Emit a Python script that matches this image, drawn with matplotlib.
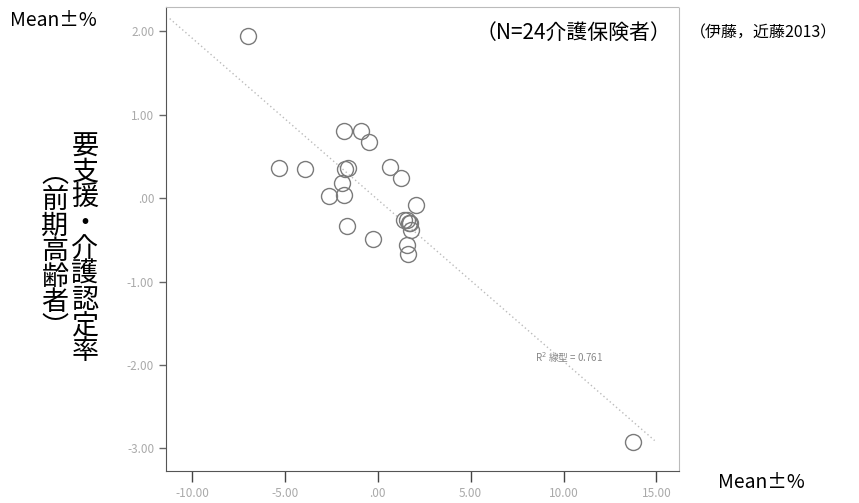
import numpy as np
import matplotlib
matplotlib.use("Agg")
import matplotlib.pyplot as plt

plt.rcParams['font.family'] = ['Noto Sans CJK JP', 'DejaVu Sans']

# 24 insurers: x = deviation (Mean±%), y = certification rate deviation (Mean±%)
x_vals = [-1.81, -0.91, -0.48, -5.32, -3.94, -1.74, -1.60, -1.90, -2.62, -1.81,
          0.65, 1.27, 2.06, 1.40, 1.58, 1.68, 1.72, 1.81, -1.68, -0.25,
          1.58, 1.60, -6.99, 13.76]
y_vals = [0.80, 0.81, 0.67, 0.36, 0.35, 0.35, 0.36, 0.18, 0.02, 0.04,
          0.37, 0.24, -0.08, -0.26, -0.26, -0.30, -0.30, -0.38, -0.34, -0.49,
          -0.56, -0.67, 1.94, -2.92]
x_ticks = [-10, -5, 0, 5, 10, 15]
x_ticklabels = ['-10.00', '-5.00', '.00', '5.00', '10.00', '15.00']
y_ticks = [2, 1, 0, -1, -2, -3]
y_ticklabels = ['2.00', '1.00', '.00', '-1.00', '-2.00', '-3.00']
r2_label = 'R$^2$ 線型 = 0.761'

fig = plt.figure(figsize=(8.59, 5.03), dpi=100)
ax = fig.add_axes([0.1932, 0.0636, 0.597, 0.9225])

# fitted line
slope, intercept = np.polyfit(x_vals, y_vals, 1)
lx = np.array([-11.2, 14.9])
ax.plot(lx, slope * lx + intercept, ls=(0, (1, 2)), color='#bbbbbb', lw=1)

ax.plot(x_vals, y_vals, 'o', ms=11.5, mfc='none', mec='#7a7a7a', mew=1.0)

ax.set_xlim(-11.4, 16.2)
ax.set_ylim(-3.27, 2.29)
ax.set_xticks(x_ticks)
ax.set_xticklabels(x_ticklabels)
ax.set_yticks(y_ticks)
ax.set_yticklabels(y_ticklabels)
ax.tick_params(axis='x', length=8, width=1, color='#444444', labelcolor='#aaaaaa',
               labelsize=8.5, direction='out')
ax.tick_params(axis='y', length=5, width=1, color='#666666', labelcolor='#aaaaaa',
               labelsize=8.5, direction='out')
for s in ['left', 'bottom']:
    ax.spines[s].set_color('#555555')
for s in ['top', 'right']:
    ax.spines[s].set_color('#bbbbbb')
    ax.spines[s].set_linestyle((0, (1, 1)))

ax.text(0.72, 0.246, r2_label, transform=ax.transAxes, fontsize=7,
        color='#888888', va='center')
ax.text(0.795, 0.945, '（N=24介護保険者）', transform=ax.transAxes, fontsize=15,
        ha='center', va='center')

fig.text(0.012, 0.96, 'Mean±%', fontsize=14, ha='left', va='center')
fig.text(0.836, 0.04, 'Mean±%', fontsize=14, ha='left', va='center')
fig.text(0.803, 0.934, '（伊藤，近藤2013）', fontsize=11.5, ha='left', va='center')

# vertical y-axis label (two columns)
col1 = '要支援・介護認定率'
col2 = '︵前期高齢者︶'
fig.text(0.099, 0.505, '\n'.join(col1), fontsize=19.5, ha='center', va='center',
         linespacing=0.93)
fig.text(0.064, 0.5, '\n'.join(col2), fontsize=19.5, ha='center', va='center',
         linespacing=0.93)

fig.savefig('out.png', dpi=100)
